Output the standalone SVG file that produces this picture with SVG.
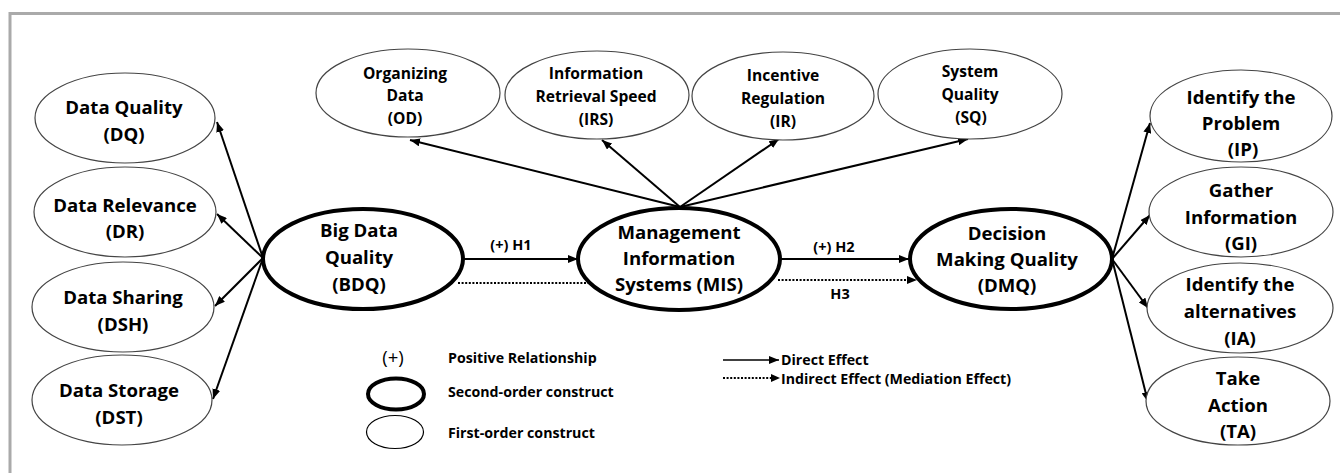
<svg xmlns="http://www.w3.org/2000/svg" width="1340" height="473" viewBox="0 0 1340 473">
  <style>
    .t { font-family: "Open Sans", "Liberation Sans", sans-serif; font-weight: bold; fill: #000; text-anchor: middle; }
    .big { font-size: 18.6px; }
    .mid { font-size: 18.6px; }
    .top { font-size: 15.6px; }
    .lab { font-size: 14.5px; }
    .leg { font-family: "Open Sans", "Liberation Sans", sans-serif; font-weight: bold; font-size: 14.2px; fill: #000; }
    .first { fill: #fff; stroke: #444; stroke-width: 1.2; }
    .second { fill: #fff; stroke: #000; stroke-width: 4; }
    .arrow { stroke: #000; stroke-width: 2; fill: none; marker-end: url(#ah); }
    .dot { stroke: #000; stroke-width: 2.2; fill: none; stroke-dasharray: 2 1.6; }
  </style>
  <defs>
    <marker id="ah" viewBox="0 0 10 8" refX="10" refY="4" markerWidth="10" markerHeight="8" markerUnits="userSpaceOnUse" orient="auto">
      <path d="M0,0 L10,4 L0,8 z" fill="#000"/>
    </marker>
  </defs>

  <rect x="0" y="0" width="1340" height="473" fill="#fff"/>
  <!-- page frame (top and left rules) -->
  <path d="M10,473 V13.5 H1340" fill="none" stroke="#aaa" stroke-width="3"/>

  <!-- connectors -->
  <g id="connectors">
    <!-- BDQ to its indicators -->
    <line class="arrow" x1="263" y1="258" x2="217" y2="122"/>
    <line class="arrow" x1="263" y1="258" x2="217" y2="214"/>
    <line class="arrow" x1="263" y1="258" x2="215" y2="306"/>
    <line class="arrow" x1="263" y1="258" x2="213" y2="399"/>
    <!-- MIS to its indicators -->
    <line class="arrow" x1="680" y1="207" x2="410" y2="140"/>
    <line class="arrow" x1="680" y1="207" x2="602" y2="140"/>
    <line class="arrow" x1="680" y1="207" x2="779" y2="139"/>
    <line class="arrow" x1="680" y1="207" x2="968" y2="139"/>
    <!-- DMQ to its indicators -->
    <line class="arrow" x1="1112" y1="259" x2="1150" y2="123"/>
    <line class="arrow" x1="1112" y1="259" x2="1150" y2="215"/>
    <line class="arrow" x1="1112" y1="259" x2="1148" y2="308"/>
    <line class="arrow" x1="1112" y1="259" x2="1148" y2="402"/>
    <!-- hypotheses -->
    <line class="arrow" x1="463" y1="259" x2="578" y2="259"/>
    <line class="dot" x1="458" y1="283" x2="588" y2="283"/>
    <line class="arrow" x1="780" y1="259" x2="909" y2="259"/>
    <line class="dot" x1="778" y1="280" x2="910" y2="280"/>
    <path d="M907,276 L917,280 L907,284 z" fill="#000"/>
    <text class="t lab" x="511" y="250">(+) H1</text>
    <text class="t lab" x="834" y="252">(+) H2</text>
    <text class="t lab" x="840" y="299">H3</text>
  </g>

  <!-- first-order constructs of BDQ -->
  <g id="DQ">
    <ellipse class="first" cx="125" cy="118" rx="90" ry="45"/>
    <text class="t mid" x="124" y="114">Data Quality</text>
    <text class="t mid" x="124" y="141">(DQ)</text>
  </g>
  <g id="DR">
    <ellipse class="first" cx="125" cy="212" rx="91" ry="45"/>
    <text class="t mid" x="125" y="212">Data Relevance</text>
    <text class="t mid" x="125" y="238">(DR)</text>
  </g>
  <g id="DSH">
    <ellipse class="first" cx="123" cy="307" rx="91" ry="45"/>
    <text class="t mid" x="123" y="304">Data Sharing</text>
    <text class="t mid" x="123" y="331">(DSH)</text>
  </g>
  <g id="DST">
    <ellipse class="first" cx="122" cy="400" rx="90" ry="45"/>
    <text class="t mid" x="119" y="397">Data Storage</text>
    <text class="t mid" x="119" y="424">(DST)</text>
  </g>

  <!-- first-order constructs of MIS -->
  <g id="OD">
    <ellipse class="first" cx="408" cy="93" rx="92" ry="44"/>
    <text class="t top" x="405" y="79">Organizing</text>
    <text class="t top" x="405" y="101">Data</text>
    <text class="t top" x="405" y="124">(OD)</text>
  </g>
  <g id="IRS">
    <ellipse class="first" cx="597" cy="95" rx="92" ry="44"/>
    <text class="t top" x="596" y="79">Information</text>
    <text class="t top" x="596" y="102">Retrieval Speed</text>
    <text class="t top" x="596" y="125">(IRS)</text>
  </g>
  <g id="IR">
    <ellipse class="first" cx="783" cy="96" rx="91" ry="44"/>
    <text class="t top" x="783" y="81">Incentive</text>
    <text class="t top" x="783" y="104">Regulation</text>
    <text class="t top" x="783" y="127">(IR)</text>
  </g>
  <g id="SQ">
    <ellipse class="first" cx="970" cy="94" rx="92" ry="45"/>
    <text class="t top" x="970" y="77">System</text>
    <text class="t top" x="970" y="100">Quality</text>
    <text class="t top" x="971" y="123">(SQ)</text>
  </g>

  <!-- second-order constructs -->
  <g id="BDQ">
    <ellipse class="second" cx="363" cy="259" rx="100" ry="50"/>
    <text class="t big" x="359" y="237">Big Data</text>
    <text class="t big" x="359" y="264">Quality</text>
    <text class="t big" x="359" y="291">(BDQ)</text>
  </g>
  <g id="MIS">
    <ellipse class="second" cx="679" cy="259" rx="101" ry="51"/>
    <text class="t big" x="679" y="239">Management</text>
    <text class="t big" x="679" y="265">Information</text>
    <text class="t big" x="679" y="291">Systems (MIS)</text>
  </g>
  <g id="DMQ">
    <ellipse class="second" cx="1011" cy="259" rx="101" ry="50"/>
    <text class="t big" x="1007" y="240">Decision</text>
    <text class="t big" x="1007" y="266">Making Quality</text>
    <text class="t big" x="1007" y="292">(DMQ)</text>
  </g>

  <!-- first-order constructs of DMQ -->
  <g id="IP">
    <ellipse class="first" cx="1241" cy="116" rx="91" ry="46"/>
    <text class="t big" x="1241" y="104">Identify the</text>
    <text class="t big" x="1241" y="130">Problem</text>
    <text class="t big" x="1243" y="156">(IP)</text>
  </g>
  <g id="GI">
    <ellipse class="first" cx="1241" cy="212" rx="92" ry="45"/>
    <text class="t big" x="1241" y="197">Gather</text>
    <text class="t big" x="1241" y="224">Information</text>
    <text class="t big" x="1241" y="250">(GI)</text>
  </g>
  <g id="IA">
    <ellipse class="first" cx="1240" cy="308" rx="93" ry="45"/>
    <text class="t big" x="1240" y="291">Identify the</text>
    <text class="t big" x="1240" y="318">alternatives</text>
    <text class="t big" x="1240" y="345">(IA)</text>
  </g>
  <g id="TA">
    <ellipse class="first" cx="1238" cy="401" rx="92" ry="44"/>
    <text class="t big" x="1238" y="385">Take</text>
    <text class="t big" x="1238" y="412">Action</text>
    <text class="t big" x="1238" y="438">(TA)</text>
  </g>

  <!-- legend -->
  <g id="legend">
    <text x="393" y="364" font-family="Open Sans, Liberation Sans, sans-serif" font-size="18.5" fill="#000" text-anchor="middle">(+)</text>
    <text class="leg" x="448" y="363">Positive Relationship</text>
    <ellipse class="second" cx="396" cy="394" rx="28" ry="15.5"/>
    <text class="leg" x="448" y="397">Second-order construct</text>
    <ellipse class="first" cx="395" cy="432" rx="28.5" ry="16.5" style="stroke:#000"/>
    <text class="leg" x="448" y="438">First-order construct</text>
    <line class="arrow" x1="723" y1="360" x2="779" y2="360" style="stroke-width:1.6"/>
    <text class="leg" x="781" y="365">Direct Effect</text>
    <line class="dot" x1="723" y1="378" x2="772" y2="378" style="stroke-width:1.8"/>
    <path d="M771,374 L780,378 L771,382 z" fill="#000"/>
    <text class="leg" x="781" y="384">Indirect Effect (Mediation Effect)</text>
  </g>
</svg>
